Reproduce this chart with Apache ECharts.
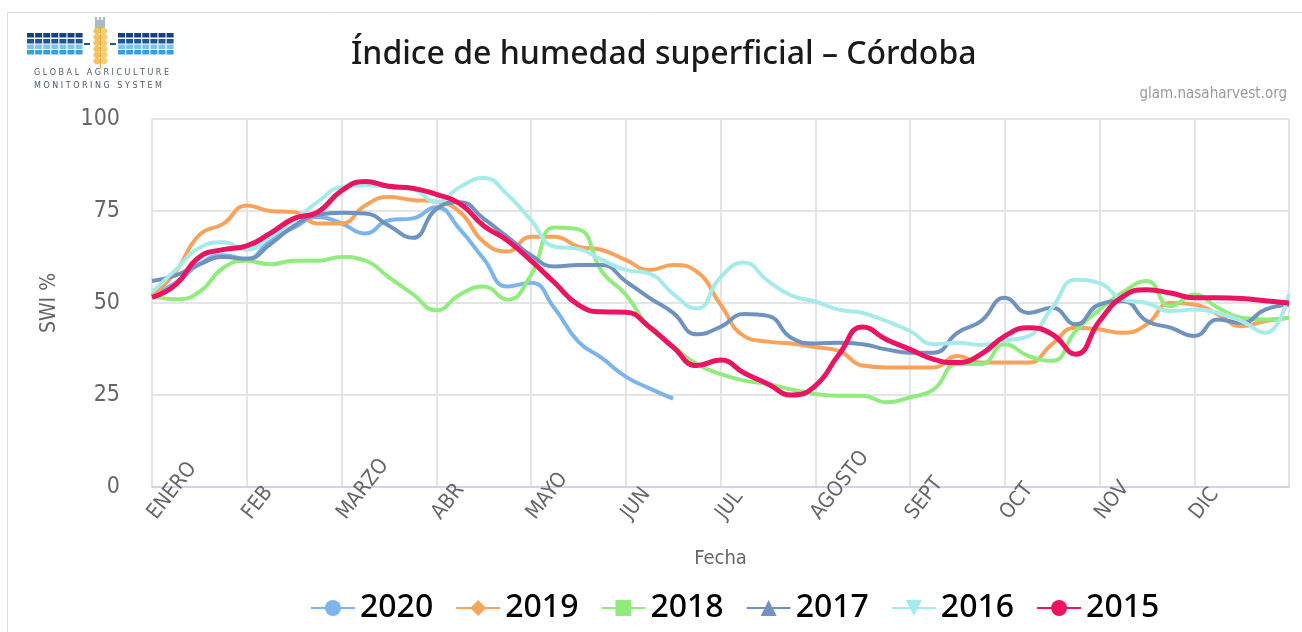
<!DOCTYPE html>
<html>
<head>
<meta charset="utf-8">
<script src="https://cdn.jsdelivr.net/npm/echarts@6/dist/echarts.min.js"></script>
<style>
html, body { margin: 0; padding: 0; background: #fff; }
#grafico { width: 1302px; height: 632px; }
</style>
</head>
<body>
<div id="grafico"></div>
<script>
// eje x: 4 puntos por mes, etiqueta solo al inicio de cada mes
var fechas = ['ENERO','','','','FEB','','','','MARZO','','','','ABR','','','',
  'MAYO','','','','JUN','','','','JUL','','','','AGOSTO','','','',
  'SEPT','','','','OCT','','','','NOV','','','','DIC','','','',''];
var anios = ['2020', '2019', '2018', '2017', '2016', '2015'];

var swi2020 = [52, 55.5, 60.5, 63, 62, 67, 70.5, 73.4, 71.6, 68.9, 72.5, 73, 76,
  70, 62, 54.5, 55.5, 48.5, 39.5, 35, 30, 26.8, 24,
  null, null, null, null, null, null, null, null, null, null, null, null, null,
  null, null, null, null, null, null, null, null, null, null, null, null, null];
var swi2019 = [52, 58.5, 68.5, 71.5, 76.5, 75, 74.7, 71.6, 71.6, 76.5, 78.8, 78, 77.5,
  74.7, 66.6, 64, 68, 68, 65.3, 64.4, 61.7, 59, 60.3, 58.5, 49.6,
  41, 39.5, 39, 38, 37, 33, 32.5, 32.5, 32.5, 35.6, 33.8,
  33.8, 33.8, 38.8, 43.3, 42.8, 41.9, 44.2, 50, 49.6, 46.9, 43.7, 45.1, 46];
var swi2018 = [52, 51, 53, 59.5, 61.5, 60.5, 61.5, 61.5, 62.5, 61.5, 57, 52.5, 48,
  52.3, 54.5, 50.9, 57.6, 70.5, 70, 58.5, 52.3, 43.3, 38.3, 33.4, 30.7,
  28.9, 28, 26.5, 25.3, 24.8, 24.8, 23, 24.4, 26.5, 33.4, 33.4,
  38.8, 35.6, 34.3, 42.4, 48.2, 53, 56, 49.1, 52.3, 48.7, 46, 45.5, 46];
var swi2017 = [56, 57.5, 60.5, 62.5, 62, 66, 71, 74, 74.5, 74.3, 71, 67.7, 75.5,
  77.4, 72.9, 68, 63, 59.9, 60.3, 60.3, 55.9, 51.4, 47.3, 41.5, 43.5,
  47, 46.5, 40.5, 39, 39.2, 38.8, 37.4, 36.5, 36.5, 41.9, 45.1,
  51.4, 47.3, 48.7, 44.2, 49.6, 50.5, 45.1, 43.3, 41, 45.5, 44.6, 48.2, 49.5];
var swi2016 = [53, 59, 65, 66.5, 64.5, 68, 72.5, 77.5, 81.5, 82, 81.5, 81, 77.5,
  81.5, 84, 79.5, 72.5, 65.3, 64.7, 61.7, 59, 58, 52.5, 48.5, 57,
  61, 56, 52, 50.4, 48.2, 47.3, 45.1, 42.4, 38.8, 39.2, 38.6,
  39.8, 41, 48.7, 56.3, 55.4, 50.9, 50, 47.8, 48.2, 47.3, 45.1, 41.9, 52.5];
var swi2015 = [51.5, 55, 62.5, 64.5, 65.5, 69, 73, 74.7, 80.5, 83, 81.7, 81.2, 79.5,
  77, 71, 67, 61.5, 55.5, 49.5, 47.6, 47.5, 43.5, 38, 33, 34.5,
  31, 28, 25, 27.5, 36, 43.5, 40.1, 37.4, 34.7, 33.8, 36.1,
  41, 43.3, 41.5, 36.1, 45.1, 51.8, 53.6, 52.7, 51.4, 51.4, 51.2, 50.6, 50];

var colores = ['#7cb5ec', '#f7a35c', '#90ed7d', '#7092be', '#a6eaea', '#eb1460'];
var simbolos = ['circle', 'diamond', 'rect', 'triangle', 'path://M0,0 L10,0 L5,10 Z', 'circle'];
var datos = [swi2020, swi2019, swi2018, swi2017, swi2016, swi2015];

var fuenteNum = '"DejaVu Sans Condensed", "Liberation Sans Narrow", sans-serif';

// logo GLAM aproximado
function logo() {
  var g = [];
  var filas = [[33, '#17427e'], [39, '#1d5796'], [44.5, '#7fc3ec'], [50, '#3d9ddf']];
  [27, 118].forEach(function (x0) {
    filas.forEach(function (f) {
      for (var c = 0; c < 7; c++) {
        g.push({ type: 'rect', shape: { x: x0 + c * 8.1, y: f[0], width: 7, height: 4.5 }, style: { fill: f[1] } });
      }
    });
  });
  g.push({ type: 'rect', shape: { x: 84, y: 43, width: 6, height: 2 }, style: { fill: '#1d5796' } });
  g.push({ type: 'rect', shape: { x: 110, y: 43, width: 6, height: 2 }, style: { fill: '#1d5796' } });
  for (var a = 0; a < 5; a++) {
    g.push({ type: 'line', shape: { x1: 96 + a * 2, y1: 17 + (a % 2) * 3, x2: 96 + a * 2, y2: 29 }, style: { stroke: '#5a7391', lineWidth: 1 } });
  }
  for (var k = 0; k < 6; k++) {
    g.push({ type: 'ellipse', shape: { cx: 97, cy: 31 + k * 6, rx: 3.6, ry: 3.2 }, style: { fill: '#f2c35a' } });
    g.push({ type: 'ellipse', shape: { cx: 104, cy: 31 + k * 6, rx: 3.6, ry: 3.2 }, style: { fill: '#f5cf73' } });
  }
  g.push({ type: 'line', shape: { x1: 100.5, y1: 28, x2: 100.5, y2: 68 }, style: { stroke: '#e3aa3a', lineWidth: 1 } });
  g.push({ type: 'text', left: 34, top: 69, style: { text: 'G L O B A L   A G R I C U L T U R E', fontSize: 8, fill: '#4d5966', fontFamily: 'DejaVu Sans' } });
  g.push({ type: 'text', left: 34, top: 82, style: { text: 'M O N I T O R I N G   S Y S T E M', fontSize: 8, fill: '#4d5966', fontFamily: 'DejaVu Sans' } });
  // marco
  g.push({ type: 'rect', shape: { x: 7.5, y: 12.5, width: 1320, height: 700 }, style: { fill: 'none', stroke: '#dcdcdc', lineWidth: 1 }, silent: true });
  return g;
}

var series = anios.map(function (a, i) {
  return {
    name: a,
    type: 'line',
    data: datos[i],
    smooth: true,
    symbol: simbolos[i],
    symbolSize: 16,
    showSymbol: false,
    connectNulls: false,
    lineStyle: { width: i === 5 ? 5 : 4, color: colores[i] },
    itemStyle: { color: colores[i] },
    z: 2 + i
  };
});

var myChart = echarts.init(document.getElementById('grafico'));
var option = {
  animation: false,
  backgroundColor: '#fff',
  title: [
    {
      text: 'Índice de humedad superficial – Córdoba',
      left: 346, top: 34,
      textStyle: { fontFamily: '"Noto Sans", sans-serif', fontSize: 32, fontWeight: 500, color: '#1a1a1a' }
    },
    {
      text: 'glam.nasaharvest.org',
      right: 10, top: 82,
      textStyle: { fontFamily: fuenteNum, fontSize: 15, fontWeight: 'normal', color: '#9a9a9a' }
    }
  ],
  graphic: logo(),
  legend: {
    data: anios,
    left: 305,
    top: 587,
    itemWidth: 44,
    itemHeight: 20,
    itemGap: 22,
    textStyle: { fontFamily: '"Noto Sans", sans-serif', fontSize: 32, fontWeight: 500, color: '#000' }
  },
  grid: { left: 152, right: 13, top: 119, bottom: 145 },
  xAxis: {
    type: 'category',
    data: fechas,
    boundaryGap: false,
    name: 'Fecha',
    nameLocation: 'middle',
    nameGap: 62,
    nameTextStyle: { fontFamily: fuenteNum, fontSize: 20, color: '#666' },
    axisLine: { lineStyle: { color: '#ccd6eb', width: 2 } },
    axisTick: { show: false },
    axisLabel: {
      interval: 3,
      rotate: 52,
      align: 'left',
      verticalAlign: 'middle',
      margin: 30,
      fontFamily: fuenteNum,
      fontSize: 21,
      color: '#666'
    },
    splitLine: { show: true, interval: 3, lineStyle: { color: '#e4e4e4', width: 2 } }
  },
  yAxis: {
    type: 'value',
    min: 0,
    max: 100,
    interval: 25,
    name: 'SWI %',
    nameLocation: 'middle',
    nameGap: 92,
    nameRotate: 90,
    nameTextStyle: { fontFamily: fuenteNum, fontSize: 21, color: '#666' },
    axisLabel: { margin: 32, fontFamily: fuenteNum, fontSize: 23, color: '#666' },
    splitLine: { lineStyle: { color: '#e4e4e4', width: 2 } }
  },
  series: series
};
myChart.setOption(option);
</script>
</body>
</html>
